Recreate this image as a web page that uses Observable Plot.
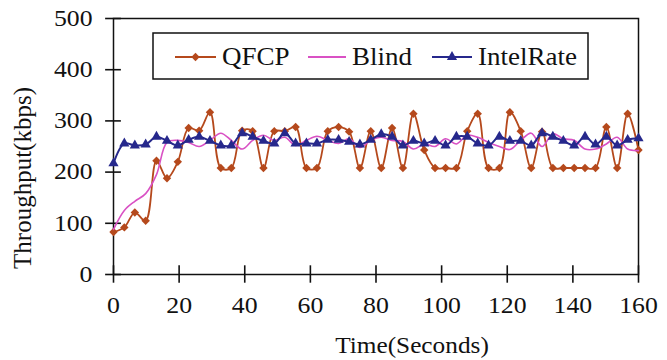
<!DOCTYPE html>
<html>
<head>
<meta charset="utf-8">
<script src="https://cdn.jsdelivr.net/npm/d3@7"></script>
<script src="https://cdn.jsdelivr.net/npm/@observablehq/plot@0.6"></script>
<style>
  html, body { margin: 0; padding: 0; background: #fff; }
  svg { display: block; }
</style>
</head>
<body>
<div id="chart"></div>
<script>
const times = [0, 3.3, 6.5, 9.8, 13.1, 16.3, 19.6, 22.9, 26.1, 29.4,
  32.7, 35.9, 39.2, 42.4, 45.7, 49.0, 52.2, 55.5, 58.8, 62.0,
  65.3, 68.6, 71.8, 75.1, 78.4, 81.6, 84.9, 88.2, 91.4, 94.7,
  98.0, 101.2, 104.5, 107.8, 111.0, 114.3, 117.6, 120.8, 124.1, 127.3,
  130.6, 133.9, 137.1, 140.4, 143.7, 146.9, 150.2, 153.5, 156.7, 160];

const qfcp = [83, 92, 121, 105, 222, 188, 220, 286, 281, 317,
  208, 208, 281, 280, 208, 280, 280, 288, 208, 208,
  280, 288, 279, 208, 280, 208, 286, 208, 314, 243,
  208, 208, 208, 280, 314, 208, 208, 317, 280, 208,
  279, 208, 208, 208, 208, 208, 288, 208, 314, 243];

const blind = [88, 125, 143, 158, 195, 258, 262, 258, 250, 262,
  276, 262, 245, 262, 272, 262, 268, 252, 262, 270,
  262, 256, 265, 248, 262, 268, 262, 260, 245, 255,
  250, 265, 255, 272, 268, 258, 250, 244, 262, 276,
  250, 275, 265, 262, 245, 245, 255, 268, 245, 242];

const intelRate = [217, 256, 252, 254, 269, 261, 252, 263, 269, 261,
  252, 252, 276, 269, 261, 256, 276, 256, 256, 256,
  263, 263, 259, 254, 263, 274, 269, 252, 261, 256,
  261, 252, 269, 269, 256, 252, 269, 261, 261, 252,
  276, 269, 261, 252, 269, 254, 269, 252, 263, 266];

const seriesNames = ["QFCP", "Blind", "IntelRate"];
const seriesColors = ["#b5491c", "#d951c4", "#26288c"];
const xTicks = [0, 20, 40, 60, 80, 100, 120, 140, 160];
const yTicks = [0, 100, 200, 300, 400, 500];
const xTitle = "Time(Seconds)";
const yTitle = "Throughput(kbps)";

const toRows = (vals) => times.map((t, i) => ({t, v: vals[i]}));
const qRows = toRows(qfcp);
const bRows = toRows(blind);
const iRows = toRows(intelRate);

const font = "'Liberation Serif', 'Times New Roman', serif";

const chart = Plot.plot({
  width: 667,
  height: 360,
  marginLeft: 113,
  marginRight: 29,
  marginTop: 18,
  marginBottom: 86,
  style: {fontFamily: font, background: "#fff", color: "#111", overflow: "visible"},
  x: {domain: [0, 160]},
  y: {domain: [0, 500]},
  marks: [
    Plot.frame({stroke: "#111", strokeWidth: 1.5}),
    Plot.ruleX(xTicks, {x: d => d, y1: () => -17, y2: () => 17, stroke: "#111", strokeWidth: 1.6}),
    Plot.ruleY(yTicks, {y: d => d, x1: () => -2.4, x2: () => 2.4, stroke: "#111", strokeWidth: 1.6}),
    Plot.axisX({ticks: xTicks, tickSize: 0, tickPadding: 22, fontSize: 23, label: null}),
    Plot.axisY({ticks: yTicks, tickSize: 0, tickPadding: 21, fontSize: 23, label: null}),
    Plot.line(qRows, {x: "t", y: "v", stroke: seriesColors[0], strokeWidth: 1.8, curve: "catmull-rom"}),
    Plot.dot(qRows, {x: "t", y: "v", symbol: "diamond2", fill: seriesColors[0], r: 3.8}),
    Plot.line(bRows, {x: "t", y: "v", stroke: seriesColors[1], strokeWidth: 1.6, curve: "catmull-rom"}),
    Plot.line(iRows, {x: "t", y: "v", stroke: seriesColors[2], strokeWidth: 2, curve: "catmull-rom"}),
    Plot.dot(iRows, {x: "t", y: "v", symbol: "triangle", fill: seriesColors[2], r: 3.8})
  ]
});

document.getElementById("chart").appendChild(chart);

const svg = d3.select(chart);

// widen tick labels slightly (reference glyphs are horizontally wide)
function stretch(sel, k) {
  sel.each(function() {
    const len = this.getComputedTextLength();
    if (len > 0) {
      this.setAttribute("textLength", (len * k).toFixed(1));
      this.setAttribute("lengthAdjust", "spacingAndGlyphs");
    }
  });
}
stretch(svg.selectAll("g[aria-label='x-axis tick label'] text, g[aria-label='y-axis tick label'] text"), 1.12);

// Axis titles
const xt = svg.append("text")
  .attr("x", 412).attr("y", 353)
  .attr("text-anchor", "middle")
  .attr("font-family", font).attr("font-size", 23).attr("fill", "#111")
  .text(xTitle);
stretch(xt, 1.1);

svg.append("text")
  .attr("transform", "translate(31,178) rotate(-90)")
  .attr("text-anchor", "middle")
  .attr("font-family", font).attr("font-size", 25).attr("fill", "#111")
  .text(yTitle);

// Legend
const lg = svg.append("g");
lg.append("rect")
  .attr("x", 153).attr("y", 33).attr("width", 435).attr("height", 46)
  .attr("fill", "#fff").attr("stroke", "#111").attr("stroke-width", 1.5);

const legendItems = [
  {x0: 175, x1: 216, tx: 222, symbol: d3.symbolDiamond2, size: 45},
  {x0: 308, x1: 346, tx: 352, symbol: null},
  {x0: 432, x1: 472, tx: 478, symbol: d3.symbolTriangle, size: 45}
];
const ly = 57;
legendItems.forEach((it, i) => {
  lg.append("line")
    .attr("x1", it.x0).attr("x2", it.x1).attr("y1", ly).attr("y2", ly)
    .attr("stroke", seriesColors[i]).attr("stroke-width", 2);
  if (it.symbol) {
    lg.append("path")
      .attr("d", d3.symbol(it.symbol, it.size)())
      .attr("transform", `translate(${(it.x0 + it.x1) / 2},${ly})`)
      .attr("fill", seriesColors[i]);
  }
  const t = lg.append("text")
    .attr("x", it.tx).attr("y", ly + 8)
    .attr("text-anchor", "start")
    .attr("font-family", font).attr("font-size", 25).attr("fill", "#111")
    .text(seriesNames[i]);
  stretch(t, 1.08);
});
</script>
</body>
</html>
